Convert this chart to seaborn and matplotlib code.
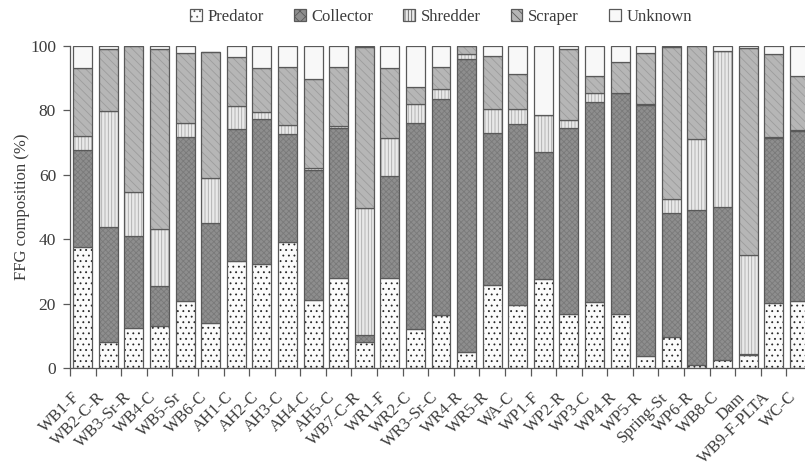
import matplotlib
matplotlib.use("Agg")
import matplotlib.pyplot as plt
import matplotlib.patches as mpatches
import matplotlib.transforms as mtransforms
import numpy as np
import seaborn as sns

# Sampling sites along the x axis
sites = ["WB1-F", "WB2-C-R", "WB3-Sr-R", "WB4-C", "WB5-Sr", "WB6-C", "AH1-C",
         "AH2-C", "AH3-C", "AH4-C", "AH5-C", "WB7-C-R", "WR1-F", "WR2-C",
         "WR3-Sr-C", "WR4-R", "WR5-R", "WA-C", "WP1-F", "WP2-R", "WP3-C",
         "WP4-R", "WP5-R", "Spring-St", "WP6-R", "WB8-C", "Dam",
         "WB9-F-PLTA", "WC-C"]

# Functional feeding group shares (%) per site
predator = [37.7, 8.3, 12.4, 13.1, 21.0, 13.9, 33.4, 32.2, 39.3, 21.2, 27.9,
            8.0, 28.1, 12.1, 16.5, 5.2, 25.8, 19.6, 27.6, 16.8, 20.7, 16.8,
            3.8, 9.6, 1.0, 2.6, 4.1, 20.1, 21.0]
collector = [30.0, 35.4, 28.6, 12.4, 50.6, 31.0, 40.7, 45.0, 33.3, 40.3, 46.5,
             2.3, 31.5, 64.0, 67.0, 90.6, 47.2, 56.1, 39.5, 57.6, 61.9, 68.4,
             77.8, 38.6, 48.1, 47.5, 0.3, 51.2, 52.7]
shredder = [4.3, 36.1, 13.5, 17.6, 4.3, 14.2, 7.3, 2.1, 2.8, 0.5, 0.7,
            39.3, 11.7, 5.8, 3.0, 1.6, 7.3, 4.6, 11.4, 2.6, 2.6, 0.0,
            0.4, 4.2, 21.9, 48.4, 30.8, 0.5, 0.3]
scraper = [21.0, 19.2, 45.5, 55.8, 21.9, 38.9, 15.2, 13.7, 17.9, 27.6, 18.2,
           50.1, 21.7, 5.4, 6.8, 2.6, 16.5, 10.9, 0.0, 21.9, 5.4, 9.8,
           15.8, 47.1, 29.0, 0.0, 64.0, 25.7, 16.6]
unknown = [7.0, 1.0, 0.0, 1.1, 2.2, 0.0, 3.4, 7.0, 6.7, 10.4, 6.7,
           0.3, 7.0, 12.7, 6.7, 0.0, 3.2, 8.8, 21.5, 1.1, 9.4, 5.0,
           2.2, 0.5, 0.0, 1.5, 0.8, 2.5, 9.4]

groups = ["Predator", "Collector", "Shredder", "Scraper", "Unknown"]
layers = [predator, collector, shredder, scraper, unknown]

# fill colour, hatch pattern and hatch ink for each group
styles = {
    "Predator": ("#fbfbfb", "...", "#262626"),
    "Collector": ("#8e8e8e", "xxxxxx", "#7a7a7a"),
    "Shredder": ("#e9e9e9", "|||||", "#ababab"),
    "Scraper": ("#b6b6b6", "\\\\\\\\", "#9c9c9c"),
    "Unknown": ("#f8f8f8", "", "#f8f8f8"),
}
outline = "#595959"
text_col = "#3c3c3c"

sns.set_style("ticks")
plt.rcParams["font.family"] = ["Liberation Serif", "DejaVu Serif"]
plt.rcParams["hatch.linewidth"] = 0.6

fig = plt.figure(figsize=(8.05, 4.71), dpi=100)
ax = fig.add_axes([70 / 805, (471 - 368.3) / 471, 742 / 805, 322.6 / 471])

bar_w = 0.74
bottom = np.zeros(len(sites))
for name, vals in zip(groups, layers):
    face, hatch, ink = styles[name]
    vals = np.asarray(vals, dtype=float)
    # textured fill
    sns.barplot(x=sites, y=vals, bottom=bottom, color=face, facecolor=face,
                edgecolor=ink, hatch=hatch, linewidth=0, width=bar_w,
                saturation=1, errorbar=None, ax=ax)
    # segment outline
    sns.barplot(x=sites, y=vals, bottom=bottom, color=outline,
                facecolor="none", edgecolor=outline, linewidth=0.9,
                width=bar_w, saturation=1, errorbar=None, ax=ax)
    bottom = bottom + vals

n = len(sites)
ax.set_xlim(-0.5, n - 0.5)
ax.set_ylim(0, 100)
ax.set_xticks(range(n))
ax.set_xticklabels(sites, rotation=45, ha="right", fontsize=12, color=text_col)
shift = mtransforms.ScaledTranslation(-7 / 72, 0, fig.dpi_scale_trans)
for lab in ax.get_xticklabels():
    lab.set_transform(lab.get_transform() + shift)
ax.set_xticks(np.arange(-0.5, n, 1.0), minor=True)
ax.tick_params(axis="x", which="major", length=0, pad=15)
ax.tick_params(axis="x", which="minor", length=6, width=0.9, color=outline,
               direction="out")
ax.set_yticks(range(0, 101, 20))
ax.tick_params(axis="y", length=5, width=0.9, color=outline, direction="out",
               labelsize=12.5, labelcolor=text_col, pad=5)
ax.set_xlabel("")
ax.set_ylabel("FFG composition (%)", fontsize=12, color=text_col, labelpad=0)

for side in ("top", "right"):
    ax.spines[side].set_visible(False)
for side in ("left", "bottom"):
    ax.spines[side].set_color(outline)
    ax.spines[side].set_linewidth(0.9)

handles = []
for name in groups:
    face, hatch, ink = styles[name]
    handles.append(mpatches.Patch(facecolor=face, edgecolor=outline,
                                  hatch=hatch if name != "Collector" else "xxx",
                                  linewidth=0.9, label=name))
leg = fig.legend(handles=handles, loc="center",
                 bbox_to_anchor=(441 / 805, 1 - 17 / 471), ncol=5,
                 frameon=False, fontsize=12, handlelength=0.7,
                 handleheight=0.7, handletextpad=0.35, columnspacing=1.8)
for t in leg.get_texts():
    t.set_color(text_col)

fig.savefig("out.png", dpi=100)
